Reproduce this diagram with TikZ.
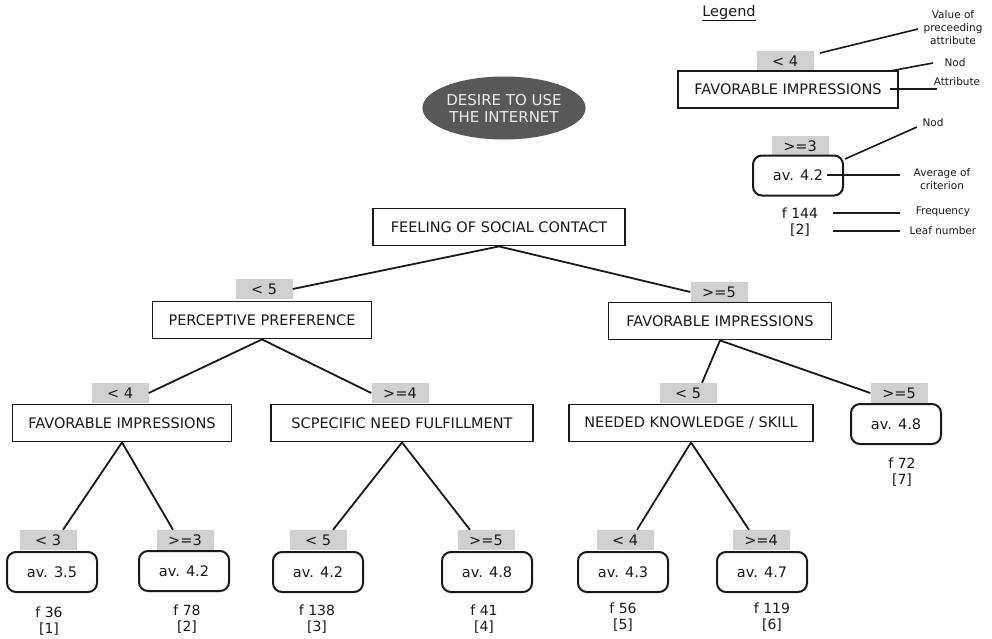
\documentclass[tikz,border=0pt]{standalone}
\usepackage{fontspec}
\setmainfont{DejaVu Sans}
\usetikzlibrary{shapes.geometric}
\definecolor{ink}{RGB}{25,25,25}
\definecolor{lblgray}{RGB}{208,208,208}
\definecolor{ovalgray}{RGB}{88,88,88}
\begin{document}
\begin{tikzpicture}[x=1pt,y=-1pt,
  every node/.style={text=ink, font=\fontsize{14.5}{17}\selectfont},
  attr/.style={draw=ink, line width=1.8pt, minimum height=37pt, inner sep=0pt},
  leafbox/.style={draw=ink, line width=2pt, rounded corners=9pt, minimum width=90pt, minimum height=40pt, inner sep=0pt},
  valbox/.style={fill=lblgray, minimum width=57pt, minimum height=20pt, inner sep=0pt},
  conn/.style={draw=ink, line width=1.8pt},
  legline/.style={draw=ink, line width=1.6pt},
  legtext/.style={font=\fontsize{10.5}{13}\selectfont, align=center, inner sep=0pt},
  freqtext/.style={align=center, font=\fontsize{14}{16}\selectfont, inner sep=0pt}
]
\useasboundingbox[fill=white] (0,0) rectangle (992,638);

% root
\node[ellipse, fill=ovalgray, minimum width=162pt, minimum height=63pt, inner sep=0pt,
      text=white!92!black, align=center, font=\fontsize{15}{17}\selectfont] (root) at (504,108) {DESIRE TO USE\\THE INTERNET};

% attribute boxes
\node[attr, minimum width=252pt] (feel) at (499,227) {FEELING OF SOCIAL CONTACT};
\node[attr, minimum width=219pt] (perc) at (262,320) {PERCEPTIVE PREFERENCE};
\node[attr, minimum width=223pt] (favr) at (720,321) {FAVORABLE IMPRESSIONS};
\node[attr, minimum width=219pt] (favl) at (122,423) {FAVORABLE IMPRESSIONS};
\node[attr, minimum width=262pt] (spec) at (402,423) {SCPECIFIC NEED FULFILLMENT};
\node[attr, minimum width=244pt] (need) at (691,423) {NEEDED KNOWLEDGE / SKILL};

% value labels
\node[valbox] (vperc) at (264,289) {< 5};
\node[valbox] (vfavr) at (719,292) {>=5};
\node[valbox] (vfavl) at (120,393) {< 4};
\node[valbox] (vspec) at (400,393) {>=4};
\node[valbox] (vneed) at (688,393) {< 5};
\node[valbox] (vl7) at (899,393) {>=5};
\node[valbox] (vl1) at (48,540) {< 3};
\node[valbox] (vl2) at (185,540) {>=3};
\node[valbox] (vl3) at (318,540) {< 5};
\node[valbox] (vl4) at (486,540) {>=5};
\node[valbox] (vl5) at (625,540) {< 4};
\node[valbox] (vl6) at (761,540) {>=4};

% leaves
\node[leafbox] (l1) at (52,572) {av. 3.5};
\node[leafbox] (l2) at (184,571) {av. 4.2};
\node[leafbox] (l3) at (318,572) {av. 4.2};
\node[leafbox] (l4) at (487,572) {av. 4.8};
\node[leafbox] (l5) at (623,572) {av. 4.3};
\node[leafbox] (l6) at (762,572) {av. 4.7};
\node[leafbox] (l7) at (896,424) {av. 4.8};

\node[freqtext] (f1) at (49,621) {f 36\\{[1]}};
\node[freqtext] (f2) at (187,619) {f 78\\{[2]}};
\node[freqtext] (f3) at (317,619) {f 138\\{[3]}};
\node[freqtext] (f4) at (484,619) {f 41\\{[4]}};
\node[freqtext] (f5) at (623,617) {f 56\\{[5]}};
\node[freqtext] (f6) at (772,617) {f 119\\{[6]}};
\node[freqtext] (f7) at (902,472) {f 72\\{[7]}};

% connectors
\draw[conn] (feel.south) -- (vperc.east);
\draw[conn] (feel.south) -- (vfavr.west);
\draw[conn] (perc.south) -- (vfavl.east);
\draw[conn] (perc.south) -- (vspec.west);
\draw[conn] (favr.south) -- ([xshift=14pt]vneed.north);
\draw[conn] (favr.south) -- (vl7.west);
\draw[conn] (favl.south) -- ([xshift=15pt]vl1.north);
\draw[conn] (favl.south) -- ([xshift=-12pt]vl2.north);
\draw[conn] (spec.south) -- ([xshift=15pt]vl3.north);
\draw[conn] (spec.south) -- ([xshift=-16pt]vl4.north);
\draw[conn] (need.south) -- ([xshift=12pt]vl5.north);
\draw[conn] (need.south) -- ([xshift=-12pt]vl6.north);

% legend
\node (legtitle) at (729,13) {\underline{Legend}};
\node[valbox] (lgv1) at (785,61) {< 4};
\node[attr, minimum width=220pt] (lgbox) at (788,89.5) {FAVORABLE IMPRESSIONS};
\node[valbox] (lgv2) at (800,146) {>=3};
\node[leafbox] (lgleaf) at (798,175.5) {av. 4.2};
\node[freqtext] (lgf) at (800,213) {f 144};
\node[freqtext] (lgn) at (800,230) {[2]};

\node[legtext] (tval) at (953,28) {Value of\\preceeding\\attribute};
\node[legtext] (tnod1) at (955,63) {Nod};
\node[legtext] (tattr) at (957,82) {Attribute};
\node[legtext] (tnod2) at (933,123) {Nod};
\node[legtext] (tavg) at (942,179) {Average of\\criterion};
\node[legtext] (tfreq) at (943,212) {Frequency};
\node[legtext] (tleaf) at (943,231) {Leaf number};

\coordinate (a1) at (820,53);   \coordinate (b1) at (918,29);
\coordinate (a2) at (890,71);   \coordinate (b2) at (933,63);
\coordinate (a3) at (890,89);   \coordinate (b3) at (937,89);
\coordinate (a4) at (845,159);  \coordinate (b4) at (917,127);
\coordinate (a5) at (827,175);  \coordinate (b5) at (900,175);
\coordinate (a6) at (833,213);  \coordinate (b6) at (900,213);
\coordinate (a7) at (833,231);  \coordinate (b7) at (900,231);
\draw[legline] (a1) -- (b1);
\draw[legline] (a2) -- (b2);
\draw[legline] (a3) -- (b3);
\draw[legline] (a4) -- (b4);
\draw[legline] (a5) -- (b5);
\draw[legline] (a6) -- (b6);
\draw[legline] (a7) -- (b7);
\end{tikzpicture}
\end{document}
